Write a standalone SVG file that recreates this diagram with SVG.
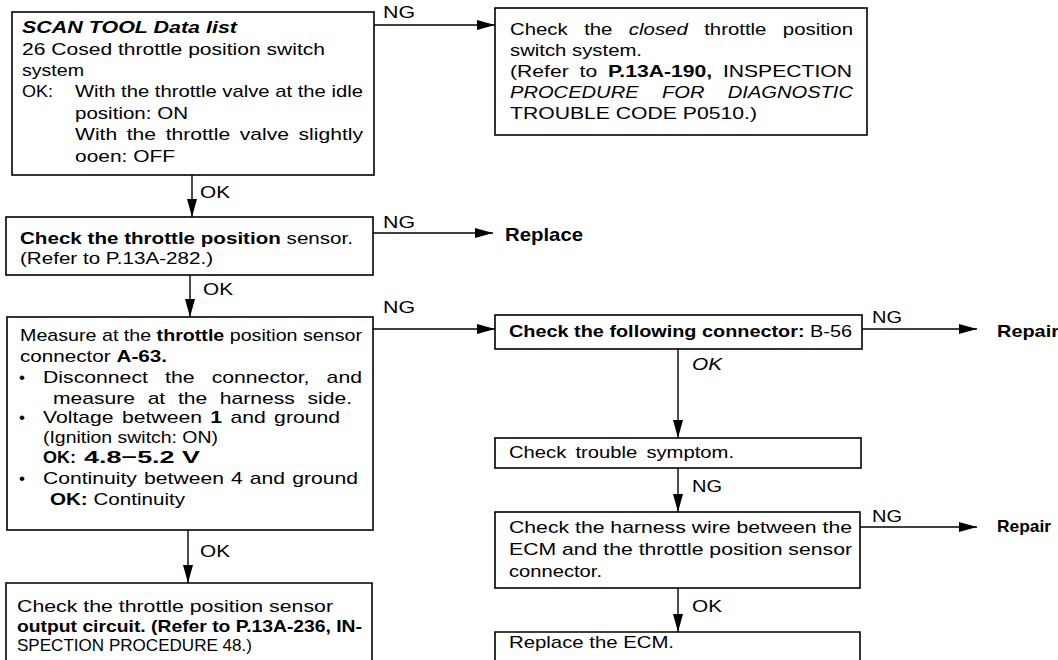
<svg xmlns="http://www.w3.org/2000/svg" width="1058" height="660" viewBox="0 0 1058 660">
<style>
text{font-family:"Liberation Sans",Arial,Helvetica,sans-serif;font-size:17px;fill:#000}
.b{font-weight:bold}
.i{font-style:italic}
.box{fill:#fff;stroke:#000;stroke-width:1.6}
.conn line{stroke:#000;stroke-width:1.4;fill:none}
</style>
<defs>
<marker id="ah" viewBox="0 0 18 10" refX="18" refY="5" markerWidth="18" markerHeight="10" markerUnits="userSpaceOnUse" orient="auto">
<path d="M0,0 L18,5 L0,10 z" fill="#000"/>
</marker>
</defs>
<rect width="1058" height="660" fill="#fff"/>

<g class="conn">
<line x1="374" y1="25" x2="495" y2="25" marker-end="url(#ah)"/>
<line x1="192" y1="175" x2="192" y2="217" marker-end="url(#ah)"/>
<line x1="373" y1="233" x2="493" y2="233" marker-end="url(#ah)"/>
<line x1="190" y1="275" x2="190" y2="317" marker-end="url(#ah)"/>
<line x1="373" y1="329" x2="495" y2="329" marker-end="url(#ah)"/>
<line x1="188" y1="530" x2="188" y2="583" marker-end="url(#ah)"/>
<line x1="862" y1="329" x2="977" y2="329" marker-end="url(#ah)"/>
<line x1="678" y1="349" x2="678" y2="438" marker-end="url(#ah)"/>
<line x1="678" y1="468" x2="678" y2="512" marker-end="url(#ah)"/>
<line x1="860" y1="527" x2="977" y2="527" marker-end="url(#ah)"/>
<line x1="678" y1="588" x2="678" y2="632" marker-end="url(#ah)"/>
</g>

<g id="labels">
<text x="383" y="18" textLength="32" lengthAdjust="spacingAndGlyphs">NG</text>
<text x="200" y="198" textLength="30" lengthAdjust="spacingAndGlyphs">OK</text>
<text x="383" y="228" textLength="32" lengthAdjust="spacingAndGlyphs">NG</text>
<text x="203" y="295" textLength="30" lengthAdjust="spacingAndGlyphs">OK</text>
<text x="383" y="313" textLength="32" lengthAdjust="spacingAndGlyphs">NG</text>
<text x="200" y="557" textLength="30" lengthAdjust="spacingAndGlyphs">OK</text>
<text x="872" y="323" textLength="30" lengthAdjust="spacingAndGlyphs">NG</text>
<text x="692" y="370" class="i" textLength="30" lengthAdjust="spacingAndGlyphs">OK</text>
<text x="692" y="492" textLength="30" lengthAdjust="spacingAndGlyphs">NG</text>
<text x="872" y="522" textLength="30" lengthAdjust="spacingAndGlyphs">NG</text>
<text x="692" y="612" textLength="30" lengthAdjust="spacingAndGlyphs">OK</text>
</g>

<g id="n1">
<rect class="box" x="12" y="12" width="362" height="163"/>
<text x="22" y="33" class="b i" textLength="215" lengthAdjust="spacingAndGlyphs">SCAN TOOL Data list</text>
<text x="22" y="55" textLength="303" lengthAdjust="spacingAndGlyphs">26 Cosed throttle position switch</text>
<text x="22" y="76" textLength="62" lengthAdjust="spacingAndGlyphs">system</text>
<text x="22" y="97" textLength="31" lengthAdjust="spacingAndGlyphs">OK:</text>
<text x="75" y="97" textLength="288" lengthAdjust="spacingAndGlyphs">With the throttle valve at the idle</text>
<text x="75" y="119" textLength="113" lengthAdjust="spacingAndGlyphs">position: ON</text>
<text x="75" y="140" word-spacing="3" textLength="288" lengthAdjust="spacingAndGlyphs">With the throttle valve slightly</text>
<text x="75" y="162" textLength="100" lengthAdjust="spacingAndGlyphs">ooen: OFF</text>
</g>

<g id="n2">
<rect class="box" x="495" y="8" width="372" height="127"/>
<text x="510" y="35" word-spacing="9" textLength="343" lengthAdjust="spacingAndGlyphs">Check the <tspan class="i">closed</tspan> throttle position</text>
<text x="510" y="56" textLength="132" lengthAdjust="spacingAndGlyphs">switch system.</text>
<text x="510" y="77" word-spacing="4" textLength="342" lengthAdjust="spacingAndGlyphs">(Refer to <tspan class="b">P.13A-190,</tspan> INSPECTION</text>
<text x="510" y="98" class="i" word-spacing="15" textLength="343" lengthAdjust="spacingAndGlyphs">PROCEDURE FOR DIAGNOSTIC</text>
<text x="510" y="119" textLength="247" lengthAdjust="spacingAndGlyphs">TROUBLE CODE P0510.)</text>
</g>

<g id="n3">
<rect class="box" x="6" y="217" width="367" height="58"/>
<text x="20" y="244" textLength="333" lengthAdjust="spacingAndGlyphs"><tspan class="b">Check the throttle position</tspan> sensor.</text>
<text x="20" y="264" textLength="193" lengthAdjust="spacingAndGlyphs">(Refer to P.13A-282.)</text>
</g>

<g id="n4">
<text x="505" y="241" class="b" style="font-size:19px" textLength="78" lengthAdjust="spacingAndGlyphs">Replace</text>
</g>

<g id="n5">
<rect class="box" x="7" y="317" width="366" height="213"/>
<text x="20" y="341" textLength="342" lengthAdjust="spacingAndGlyphs">Measure at the <tspan class="b">throttle</tspan> position sensor</text>
<text x="20" y="362" textLength="147" lengthAdjust="spacingAndGlyphs">connector <tspan class="b">A-63.</tspan></text>
<text x="19" y="383">•</text>
<text x="43" y="383" word-spacing="9" textLength="319" lengthAdjust="spacingAndGlyphs">Disconnect the connector, and</text>
<text x="53" y="404" word-spacing="5.5" textLength="299" lengthAdjust="spacingAndGlyphs">measure at the harness side.</text>
<text x="19" y="423">•</text>
<text x="43" y="423" word-spacing="2" textLength="297" lengthAdjust="spacingAndGlyphs">Voltage between <tspan class="b">1</tspan> and ground</text>
<text x="43" y="443" textLength="175" lengthAdjust="spacingAndGlyphs">(Ignition switch: ON)</text>
<text x="43" y="463" class="b" textLength="33" lengthAdjust="spacingAndGlyphs">OK:</text>
<text x="84" y="463" class="b" textLength="116" lengthAdjust="spacingAndGlyphs">4.8−5.2 V</text>
<text x="19" y="484">•</text>
<text x="43" y="484" word-spacing="1" textLength="315" lengthAdjust="spacingAndGlyphs">Continuity between 4 and ground</text>
<text x="50" y="505" textLength="135" lengthAdjust="spacingAndGlyphs"><tspan class="b">OK:</tspan> Continuity</text>
</g>

<g id="n6">
<path class="box" d="M6,662 V583 H372 V662"/>
<text x="17" y="612" textLength="316" lengthAdjust="spacingAndGlyphs">Check the throttle position sensor</text>
<text x="17" y="632" class="b" textLength="345" lengthAdjust="spacingAndGlyphs">output circuit. (Refer to P.13A-236, IN-</text>
<text x="17" y="651" textLength="235" lengthAdjust="spacingAndGlyphs">SPECTION PROCEDURE 48.)</text>
</g>

<g id="n7">
<rect class="box" x="495" y="315" width="367" height="34"/>
<text x="509" y="337" textLength="343" lengthAdjust="spacingAndGlyphs"><tspan class="b">Check the following connector:</tspan> B-56</text>
</g>

<g id="n8">
<text x="997" y="337" class="b" textLength="62" lengthAdjust="spacingAndGlyphs">Repair</text>
</g>

<g id="n9">
<rect class="box" x="495" y="438" width="366" height="30"/>
<text x="509" y="458" word-spacing="3" textLength="225" lengthAdjust="spacingAndGlyphs">Check trouble symptom.</text>
</g>

<g id="n10">
<rect class="box" x="495" y="512" width="365" height="76"/>
<text x="509" y="533" textLength="343" lengthAdjust="spacingAndGlyphs">Check the harness wire between the</text>
<text x="509" y="555" textLength="343" lengthAdjust="spacingAndGlyphs">ECM and the throttle position sensor</text>
<text x="509" y="577" textLength="93" lengthAdjust="spacingAndGlyphs">connector.</text>
</g>

<g id="n11">
<text x="997" y="532" class="b" textLength="54" lengthAdjust="spacingAndGlyphs">Repair</text>
</g>

<g id="n12">
<path class="box" d="M495,662 V632 H860 V662"/>
<text x="509" y="648" textLength="165" lengthAdjust="spacingAndGlyphs">Replace the ECM.</text>
</g>
</svg>
